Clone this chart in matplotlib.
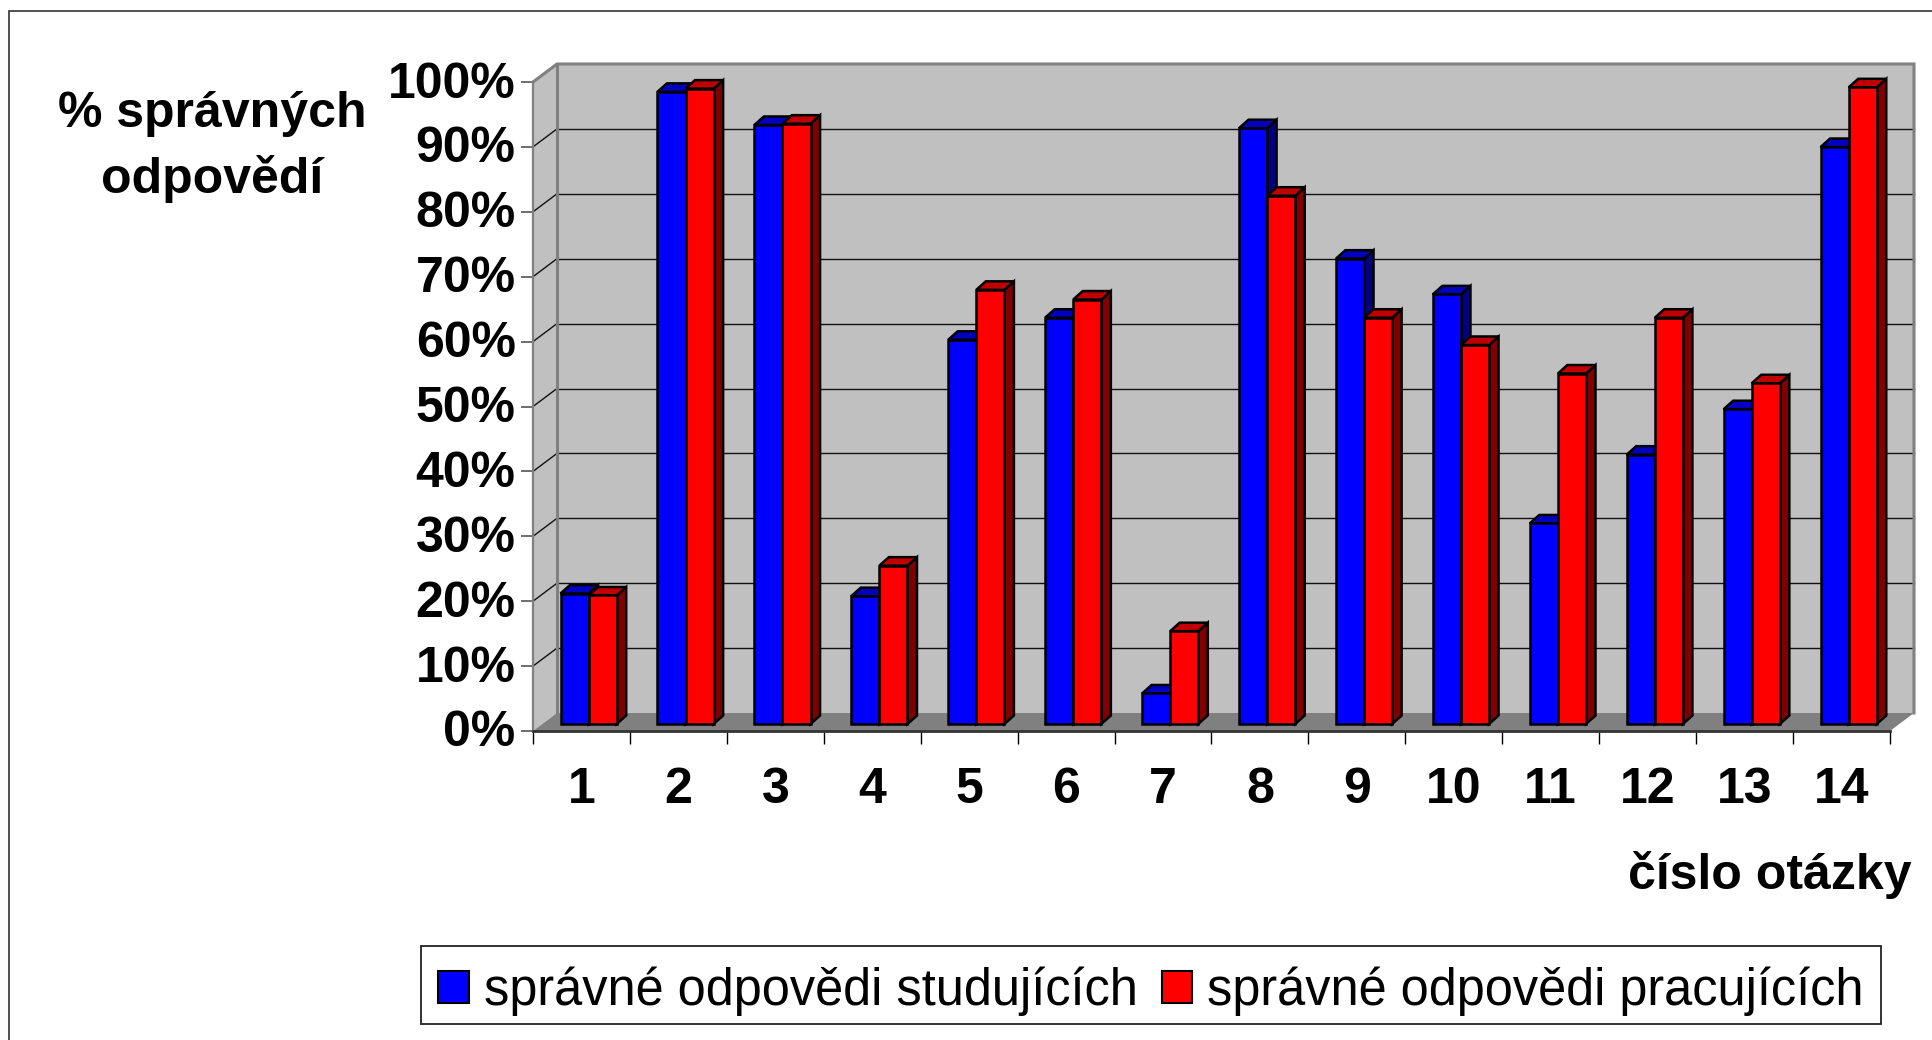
import matplotlib
matplotlib.use("Agg")
import matplotlib.pyplot as plt
from matplotlib.patches import Polygon, Patch, Rectangle
from matplotlib.transforms import ScaledTranslation

# ================= DATA =================
QUESTIONS = ["1", "2", "3", "4", "5", "6", "7", "8", "9", "10", "11", "12", "13", "14"]
STUDENTS = [20.1, 97.4, 92.3, 19.7, 59.2, 62.6, 4.7, 91.8, 71.7, 66.2, 30.9, 41.5, 48.5, 88.9]
WORKERS = [19.8, 97.9, 92.5, 24.4, 66.9, 65.4, 14.3, 81.4, 62.6, 58.4, 54.0, 62.6, 52.5, 98.1]
Y_TICKS = [0, 10, 20, 30, 40, 50, 60, 70, 80, 90, 100]
Y_TICK_LABELS = ["0%", "10%", "20%", "30%", "40%", "50%", "60%", "70%", "80%", "90%", "100%"]
LEGEND_LABELS = ["správné odpovědi studujících", "správné odpovědi pracujících"]

# ================= LAYOUT (pixels of the 1932x1040 picture) =================
W, H = 1932, 1040
LEFT, RIGHT, TOP, BOTTOM = 533, 1890, 82, 731
PX_X = 14 / (RIGHT - LEFT)    # data units per pixel
PX_Y = 100 / (BOTTOM - TOP)
WALL_DX, WALL_DY = 24 * PX_X, 18 * PX_Y
BAR_DX, BAR_DY = 9.5 * PX_X, 8.5 * PX_Y
BAR_W = 28.1 * PX_X
BAR_X0 = 27.5 * PX_X
BAR_LIFT = 7 * PX_Y

GRAY = "#808080"
WALL = "#C0C0C0"

plt.rcParams['font.family'] = ['Liberation Sans', 'DejaVu Sans']

fig = plt.figure(figsize=(W / 100, H / 100), dpi=100)
fig.add_artist(Rectangle((8.5 / W, -0.1), 1.1, 1 + 0.1 - 10.5 / H, transform=fig.transFigure,
                         facecolor="none", edgecolor="#333333", linewidth=1.2))
ax = fig.add_axes([LEFT / W, 1 - BOTTOM / H, (RIGHT - LEFT) / W, (BOTTOM - TOP) / H])
ax.set_xlim(0, 14)
ax.set_ylim(0, 100)
ax.patch.set_visible(False)


def face(points, color, z, edge="none", lw=0):
    ax.add_patch(Polygon(points, closed=True, facecolor=color, edgecolor=edge, linewidth=lw,
                         zorder=z, clip_on=False, joinstyle="miter"))


# ================= WALLS =================
face([(WALL_DX, WALL_DY), (14 + WALL_DX, WALL_DY), (14 + WALL_DX, 100 + WALL_DY), (WALL_DX, 100 + WALL_DY)], WALL, 1)
face([(0, 0), (WALL_DX, WALL_DY), (WALL_DX, 100 + WALL_DY), (0, 100)], WALL, 1)
face([(0, 0), (14, 0), (14 + WALL_DX, WALL_DY), (WALL_DX, WALL_DY)], GRAY, 1)

for v in Y_TICKS[1:-1]:
    ax.plot([WALL_DX, 14 + WALL_DX], [v + WALL_DY, v + WALL_DY], color="#111111", lw=1.0, zorder=2, clip_on=False)
    ax.plot([0, WALL_DX], [v, v + WALL_DY], color="#111111", lw=1.0, zorder=2, clip_on=False)

# wall outline
ax.plot([0, WALL_DX, 14 + WALL_DX, 14 + WALL_DX], [100, 100 + WALL_DY, 100 + WALL_DY, WALL_DY],
        color=GRAY, lw=2.2, zorder=2, clip_on=False, solid_joinstyle="miter")
ax.plot([WALL_DX, WALL_DX], [WALL_DY, 100 + WALL_DY], color=GRAY, lw=2.2, zorder=2, clip_on=False)


# ================= BARS =================
def bar_3d(x, v, color, top_color, side_color, z):
    y0, y1 = BAR_LIFT, BAR_LIFT + v
    x1 = x + BAR_W
    face([(x1, y0), (x1 + BAR_DX, y0 + BAR_DY), (x1 + BAR_DX, y1 + BAR_DY), (x1, y1)], side_color, z, "black", 1.8)
    face([(x, y1), (x1, y1), (x1 + BAR_DX, y1 + BAR_DY), (x + BAR_DX, y1 + BAR_DY)], top_color, z, "black", 1.8)
    ax.bar(x, v, BAR_W, bottom=y0, align="edge", color=color, edgecolor="black", linewidth=1.8,
           zorder=z + 0.1, clip_on=False)


for i in range(len(QUESTIONS)):
    z = 3 + i
    bar_3d(i + BAR_X0, STUDENTS[i], "#0000FF", "#0000C0", "#000080", z)
    bar_3d(i + BAR_X0 + BAR_W, WORKERS[i], "#FF0000", "#C00000", "#800000", z + 0.3)

# ================= AXES =================
for name in ("top", "right"):
    ax.spines[name].set_visible(False)
ax.spines["left"].set_color(GRAY)
ax.spines["left"].set_linewidth(1.6)
ax.spines["left"].set_zorder(2.5)
ax.spines["bottom"].set_color("#333333")
ax.spines["bottom"].set_linewidth(2.0)
ax.spines["bottom"].set_zorder(2.5)

ax.set_yticks(Y_TICKS)
ax.set_yticklabels(Y_TICK_LABELS, fontsize=36, fontweight="bold", va="center")
ax.tick_params(axis="y", length=9, width=1.2, color="#555555", pad=3.5)
# labels sit a little lower than the tick centre
label_shift = ScaledTranslation(0, -2.5 / 100, fig.dpi_scale_trans)
for label in ax.get_yticklabels():
    label.set_transform(label.get_transform() + label_shift)
ax.set_xticks(range(15))
ax.set_xticklabels([])
ax.tick_params(axis="x", which="major", length=9, width=1.0, color="black")
ax.set_xticks([i + 0.5 for i in range(14)], minor=True)
ax.set_xticklabels(QUESTIONS, minor=True, fontsize=36, fontweight="bold")
ax.tick_params(axis="x", which="minor", length=0, pad=26)

fig.text(212 / W, 1 - 147 / H, "% správných\nodpovědí", fontsize=36, fontweight="bold",
         ha="center", va="center", linespacing=1.46)
fig.text(1911 / W, 1 - 875 / H, "číslo otázky", fontsize=36, fontweight="bold", ha="right", va="center")

# ================= LEGEND =================
fig.add_artist(Rectangle((420.5 / W, 1 - 1024 / H), 1460 / W, 78 / H, transform=fig.transFigure,
                         facecolor="white", edgecolor="#222222", linewidth=1.3))
handles = [Patch(facecolor="#0000FF", edgecolor="black", linewidth=1.5),
           Patch(facecolor="#FF0000", edgecolor="black", linewidth=1.5)]
fig.legend(handles, LEGEND_LABELS, ncol=2, loc="center", bbox_to_anchor=(1151 / W, 1 - 991 / H),
           fontsize=36.4, frameon=False,
           handlelength=0.6, handleheight=0.6, handletextpad=0.3, columnspacing=0.48,
           borderpad=0, borderaxespad=0)

fig.savefig("out.png", dpi=100)
